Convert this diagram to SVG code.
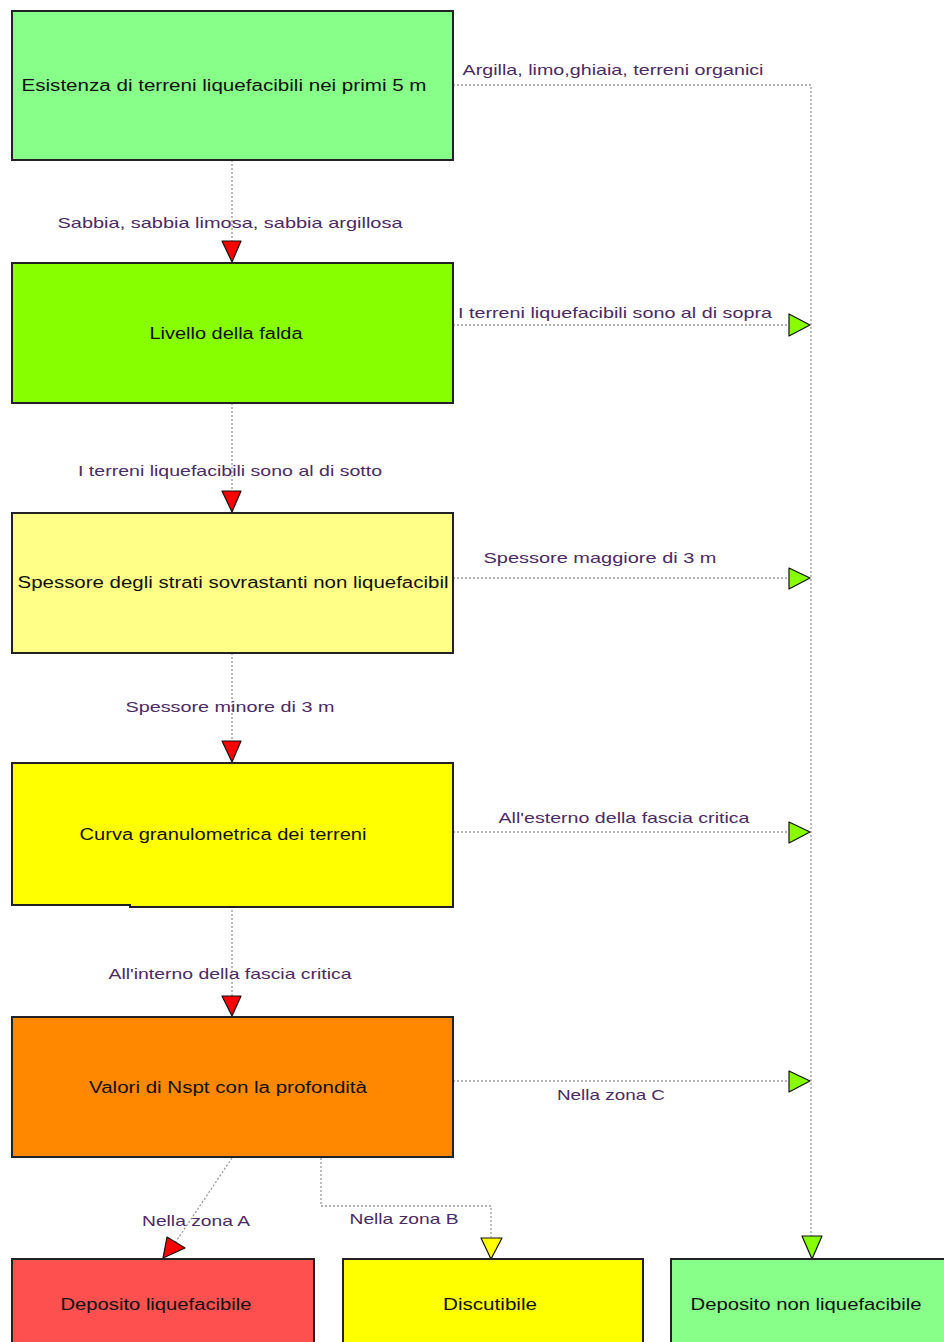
<svg xmlns="http://www.w3.org/2000/svg" width="944" height="1342" viewBox="0 0 944 1342">
<style>
.box{stroke:#222;stroke-width:2}
.bt{font-family:"Liberation Sans",Arial,sans-serif;font-size:16px;fill:#111;text-anchor:middle;dominant-baseline:central}
.lb{font-family:"Liberation Sans",Arial,sans-serif;font-size:15px;fill:#4b2a63;text-anchor:middle;dominant-baseline:central}
.ln{fill:none;stroke:#999;stroke-width:1.3;stroke-dasharray:2 2}
.ar{stroke:#111;stroke-width:1.2;stroke-linejoin:round}
</style>
<rect width="944" height="1342" fill="#fff"/>
<g id="connectors">
<path class="ln" d="M453,85 H811 V1236"/>
<path class="ln" d="M232,160 V241"/>
<path class="ln" d="M453,325 H789"/>
<path class="ln" d="M232,403 V491"/>
<path class="ln" d="M453,578 H789"/>
<path class="ln" d="M232,653 V741"/>
<path class="ln" d="M453,832 H789"/>
<path class="ln" d="M232,906 V996"/>
<path class="ln" d="M453,1081 H789"/>
<path class="ln" d="M232,1158 L175,1243"/>
<path class="ln" d="M321,1158 V1206 H491 V1237"/>
<polygon class="ar" fill="#ff0000" points="222,241 241,241 232,262"/>
<polygon class="ar" fill="#ff0000" points="222,491 241,491 232,512"/>
<polygon class="ar" fill="#ff0000" points="222,741 241,741 232,762"/>
<polygon class="ar" fill="#ff0000" points="222,996 241,996 232,1016"/>
<polygon class="ar" fill="#ff0000" points="167,1237 185,1248 163,1258"/>
<polygon class="ar" fill="#ffff00" points="481,1238 502,1238 491,1259"/>
<polygon class="ar" fill="#88ff00" points="802,1236 822,1236 812,1259"/>
<polygon class="ar" fill="#88ff00" points="789,314 789,336 810,325"/>
<polygon class="ar" fill="#88ff00" points="789,568 789,589 810,578"/>
<polygon class="ar" fill="#88ff00" points="789,822 789,843 810,832"/>
<polygon class="ar" fill="#88ff00" points="789,1071 789,1092 810,1081"/>
<text class="lb" x="613" y="69" textLength="301" lengthAdjust="spacingAndGlyphs">Argilla, limo,ghiaia, terreni organici</text>
<text class="lb" x="230" y="222" textLength="345" lengthAdjust="spacingAndGlyphs">Sabbia, sabbia limosa, sabbia argillosa</text>
<text class="lb" x="615" y="312" textLength="314" lengthAdjust="spacingAndGlyphs">I terreni liquefacibili sono al di sopra</text>
<text class="lb" x="230" y="470" textLength="304" lengthAdjust="spacingAndGlyphs">I terreni liquefacibili sono al di sotto</text>
<text class="lb" x="600" y="557" textLength="233" lengthAdjust="spacingAndGlyphs">Spessore maggiore di 3 m</text>
<text class="lb" x="230" y="706" textLength="209" lengthAdjust="spacingAndGlyphs">Spessore minore di 3 m</text>
<text class="lb" x="624" y="817" textLength="251" lengthAdjust="spacingAndGlyphs">All'esterno della fascia critica</text>
<text class="lb" x="230" y="973" textLength="243" lengthAdjust="spacingAndGlyphs">All'interno della fascia critica</text>
<text class="lb" x="611" y="1094" textLength="108" lengthAdjust="spacingAndGlyphs">Nella zona C</text>
<text class="lb" x="196" y="1220" textLength="108" lengthAdjust="spacingAndGlyphs">Nella zona A</text>
<text class="lb" x="404" y="1218" textLength="109" lengthAdjust="spacingAndGlyphs">Nella zona B</text>
</g>
<g id="n1">
<rect class="box" x="12" y="11" width="441" height="149" fill="#88ff88"/>
<text class="bt" x="224" y="85" textLength="405" lengthAdjust="spacingAndGlyphs">Esistenza di terreni liquefacibili nei primi 5 m</text>
</g>
<g id="n2">
<rect class="box" x="12" y="263" width="441" height="140" fill="#88ff00"/>
<text class="bt" x="226" y="333" textLength="153" lengthAdjust="spacingAndGlyphs">Livello della falda</text>
</g>
<g id="n3">
<rect class="box" x="12" y="513" width="441" height="140" fill="#ffff88"/>
<text class="bt" x="233" y="582" textLength="431" lengthAdjust="spacingAndGlyphs">Spessore degli strati sovrastanti non liquefacibil</text>
</g>
<g id="n4">
<path class="box" d="M12,763 H453 V907 H130 V905 H12 Z" fill="#ffff00"/>
<text class="bt" x="223" y="834" textLength="287" lengthAdjust="spacingAndGlyphs">Curva granulometrica dei terreni</text>
</g>
<g id="n5">
<rect class="box" x="12" y="1017" width="441" height="140" fill="#ff8800"/>
<text class="bt" x="228" y="1087" textLength="278" lengthAdjust="spacingAndGlyphs">Valori di Nspt con la profondità</text>
</g>
<g id="n6">
<rect class="box" x="12" y="1259" width="302" height="90" fill="#ff5050"/>
<text class="bt" x="156" y="1304" textLength="191" lengthAdjust="spacingAndGlyphs">Deposito liquefacibile</text>
</g>
<g id="n7">
<rect class="box" x="343" y="1259" width="300" height="90" fill="#ffff00"/>
<text class="bt" x="490" y="1304" textLength="94" lengthAdjust="spacingAndGlyphs">Discutibile</text>
</g>
<g id="n8">
<rect class="box" x="671" y="1259" width="280" height="90" fill="#88ff88"/>
<text class="bt" x="806" y="1304" textLength="231" lengthAdjust="spacingAndGlyphs">Deposito non liquefacibile</text>
</g>
</svg>
